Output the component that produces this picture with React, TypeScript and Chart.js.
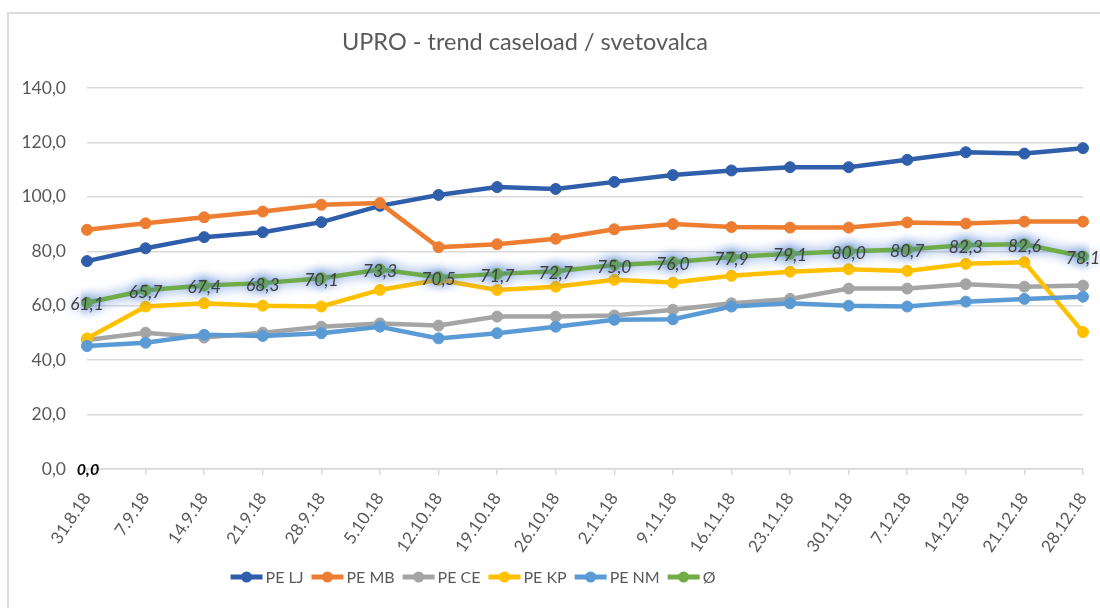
import React, { useEffect, useRef } from "react";
import { Chart, registerables } from "chart.js";
Chart.register(...registerables);

const titleText = "UPRO - trend caseload / svetovalca";
const categories = [
  "31.8.18", "7.9.18", "14.9.18", "21.9.18", "28.9.18", "5.10.18", "12.10.18", "19.10.18", "26.10.18",
  "2.11.18", "9.11.18", "16.11.18", "23.11.18", "30.11.18", "7.12.18", "14.12.18", "21.12.18", "28.12.18",
];
const seriesNames = ["PE LJ", "PE MB", "PE CE", "PE KP", "PE NM", "Ø"];
const peLJ = [76.4, 81.1, 85.2, 87.0, 90.7, 96.7, 100.7, 103.6, 102.9, 105.5, 108.0, 109.7, 110.9, 110.9, 113.6, 116.4, 115.9, 117.9];
const peMB = [87.9, 90.3, 92.5, 94.6, 97.1, 97.7, 81.5, 82.6, 84.6, 88.1, 90.0, 88.9, 88.7, 88.7, 90.6, 90.2, 90.9, 90.9];
const peCE = [47.4, 50.1, 48.3, 50.1, 52.3, 53.5, 52.7, 56.0, 56.0, 56.4, 58.5, 60.9, 62.5, 66.3, 66.3, 67.9, 67.0, 67.4];
const peKP = [48.0, 59.7, 60.9, 60.0, 59.7, 65.8, 69.5, 65.8, 67.0, 69.5, 68.5, 71.0, 72.5, 73.4, 72.8, 75.4, 76.0, 50.3];
const peNM = [45.2, 46.4, 49.3, 48.9, 49.9, 52.3, 48.0, 49.9, 52.3, 54.8, 55.0, 59.7, 60.9, 60.0, 59.7, 61.5, 62.5, 63.3];
const avgAll = [61.1, 65.7, 67.4, 68.3, 70.1, 73.3, 70.5, 71.7, 72.7, 75.0, 76.0, 77.9, 79.1, 80.0, 80.7, 82.3, 82.6, 78.1];
const seriesColors = ["#2F5EAB", "#ED7D31", "#A5A5A5", "#FFC000", "#5B9BD5", "#70AD47"];
const yMin = 0;
const yMax = 140;
const yStep = 20;
const zeroLabelIndex = 0;
const zeroLabelValue = 0;

const FONT = "Lato, 'Open Sans', sans-serif";
const TEXT = "#595959";
const fmt = (v: number) => Number(v).toFixed(1).replace(".", ",");

export default function App() {
  const ref = useRef<HTMLCanvasElement | null>(null);
  useEffect(() => {
    const canvas = ref.current;
    if (!canvas) return;
    const allSeries = [peLJ, peMB, peCE, peKP, peNM, avgAll];
    const avgIndex = 5;

    const titlePlugin = {
      id: "titleText",
      afterDraw(chart: any) {
        const ctx = chart.ctx;
        ctx.save();
        ctx.font = `23.5px ${FONT}`;
        ctx.fillStyle = TEXT;
        ctx.textAlign = "center";
        ctx.textBaseline = "middle";
        ctx.fillText(titleText, 525, 42);
        ctx.restore();
      },
    };

    const glowPlugin = {
      id: "glow",
      beforeDatasetDraw(chart: any, args: any) {
        if (args.index === avgIndex) {
          const ctx = chart.ctx;
          ctx.save();
          ctx.shadowColor = "rgba(70,120,210,0.95)";
          ctx.shadowBlur = 12;
        }
      },
      afterDatasetDraw(chart: any, args: any) {
        if (args.index === avgIndex) chart.ctx.restore();
      },
    };

    const labelPlugin = {
      id: "avgLabels",
      afterDatasetsDraw(chart: any) {
        const ctx = chart.ctx;
        const meta = chart.getDatasetMeta(avgIndex);
        ctx.save();
        ctx.font = `italic 17.5px ${FONT}`;
        ctx.textAlign = "center";
        ctx.textBaseline = "middle";
        meta.data.forEach((pt: any, i: number) => {
          ctx.shadowColor = "rgba(70,120,210,0.8)";
          ctx.shadowBlur = 10;
          ctx.fillStyle = "#404040";
          ctx.fillText(fmt(avgAll[i]), pt.x, pt.y + 2);
        });
        ctx.shadowBlur = 0;
        ctx.shadowColor = "transparent";
        const xs = chart.scales.x;
        const ys = chart.scales.y;
        ctx.font = `italic bold 16px ${FONT}`;
        ctx.fillStyle = "#000000";
        ctx.fillText(fmt(zeroLabelValue), xs.getPixelForValue(zeroLabelIndex) + 1, ys.getPixelForValue(zeroLabelValue) + 1);
        ctx.restore();
      },
    };

    const legendPlugin = {
      id: "customLegend",
      afterDraw(chart: any) {
        const ctx = chart.ctx;
        ctx.save();
        ctx.font = `16px ${FONT}`;
        const lineW = 32;
        const gapText = 3;
        const gapItem = 8;
        const widths = seriesNames.map((n) => lineW + gapText + ctx.measureText(n).width);
        const total = widths.reduce((a, b) => a + b, 0) + gapItem * (seriesNames.length - 1);
        let x = 473 - total / 2;
        const y = 577;
        seriesNames.forEach((n, i) => {
          ctx.strokeStyle = seriesColors[i];
          ctx.lineWidth = 5;
          ctx.beginPath();
          ctx.moveTo(x, y);
          ctx.lineTo(x + lineW, y);
          ctx.stroke();
          ctx.fillStyle = seriesColors[i];
          ctx.beginPath();
          ctx.arc(x + lineW / 2, y, 5.5, 0, Math.PI * 2);
          ctx.fill();
          ctx.fillStyle = TEXT;
          ctx.textAlign = "left";
          ctx.textBaseline = "middle";
          ctx.fillText(n, x + lineW + gapText, y + 1);
          x += widths[i] + gapItem;
        });
        ctx.restore();
      },
    };

    const chart = new Chart(canvas, {
      type: "line",
      data: {
        labels: categories,
        datasets: allSeries.map((d, i) => ({
          label: seriesNames[i],
          data: d,
          borderColor: seriesColors[i],
          backgroundColor: seriesColors[i],
          pointBackgroundColor: seriesColors[i],
          pointBorderColor: seriesColors[i],
          borderWidth: 4.5,
          pointRadius: 5.5,
          pointBorderWidth: 1,
          tension: 0,
          fill: false,
          order: allSeries.length - 1 - i,
        })),
      },
      options: {
        responsive: false,
        animation: false,
        events: [],
        layout: { padding: { top: 88, right: 17, bottom: 0, left: 0 } },
        plugins: {
          legend: { display: false },
          title: { display: false },
          tooltip: { enabled: false },
        },
        scales: {
          x: {
            type: "category",
            offset: false,
            grid: { drawOnChartArea: false, drawTicks: true, tickLength: 6, color: "#d9d9d9", lineWidth: 1.5 },
            border: { display: true, color: "#d9d9d9", width: 1.5 },
            ticks: {
              color: TEXT,
              font: { family: FONT, size: 17 },
              minRotation: 56,
              maxRotation: 56,
              autoSkip: false,
              padding: 14,
            },
            afterFit: (s: any) => {
              s.height = 139;
              s.paddingLeft = 0;
              s.paddingRight = 0;
            },
          },
          y: {
            min: yMin,
            max: yMax,
            ticks: {
              stepSize: yStep,
              color: TEXT,
              font: { family: FONT, size: 17.5 },
              padding: 21,
              callback: (v: any) => fmt(Number(v)),
            },
            grid: { color: "#d9d9d9", lineWidth: 1.5, drawTicks: false },
            border: { display: false },
            afterFit: (s: any) => {
              s.width = 87;
              s.paddingTop = 0;
              s.paddingBottom = 0;
            },
          },
        },
      },
      plugins: [glowPlugin, labelPlugin, titlePlugin, legendPlugin],
    } as any);
    return () => chart.destroy();
  }, []);

  return (
    <div style={{ position: "absolute", left: 0, top: 0, width: 1100, height: 608, background: "#fff", overflow: "hidden" }}>
      <div
        style={{
          position: "absolute",
          left: 7,
          top: 12,
          width: 1110,
          height: 610,
          borderTop: "2px solid #dcdcdc",
          borderLeft: "2px solid #dcdcdc",
          boxSizing: "border-box",
        }}
      />
      <canvas ref={ref} width={1100} height={608} style={{ position: "absolute", left: 0, top: 0, width: 1100, height: 608 }} />
    </div>
  );
}
